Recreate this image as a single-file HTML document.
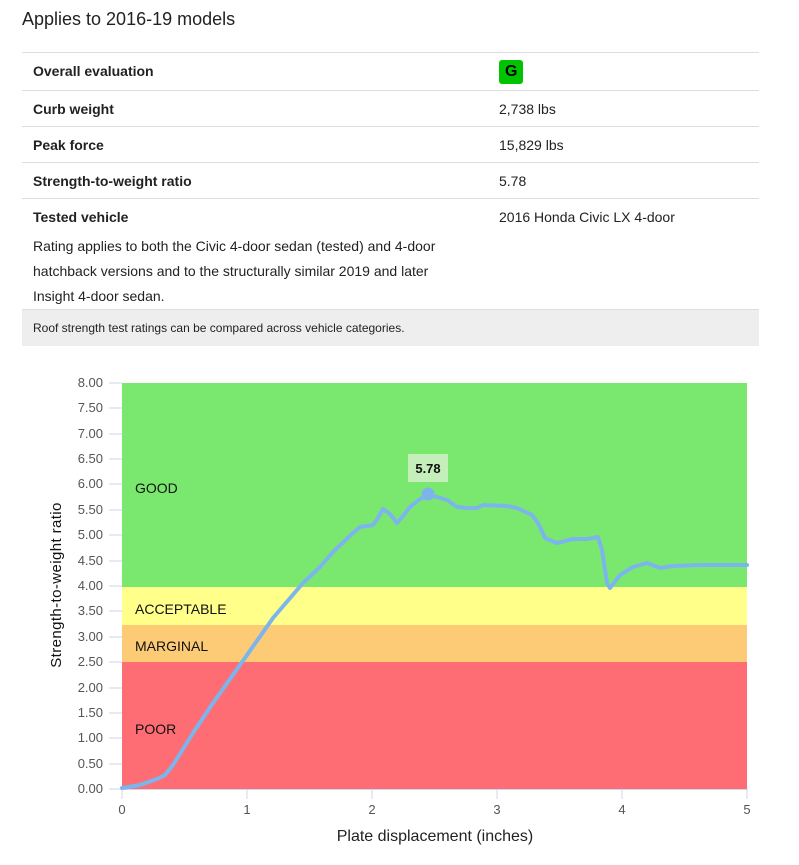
<!DOCTYPE html>
<html><head><meta charset="utf-8"><style>
body{margin:0;width:799px;height:865px;background:#fff;font-family:"Liberation Sans",sans-serif;color:#222;position:relative;overflow:hidden}
h2{position:absolute;left:22px;top:9px;margin:0;font-size:18px;font-weight:normal}
.row{position:absolute;left:22px;width:737px;border-top:1px solid #ddd;font-size:14px}
.l{position:absolute;left:11px;font-weight:bold}
.r{position:absolute;left:477px}
</style></head><body>
<h2>Applies to 2016-19 models</h2>
<div class="row" style="top:52px;height:38px"><span class="l" style="top:10px">Overall evaluation</span><span class="r" style="top:7px;background:#00c400;color:#000;font-weight:bold;border-radius:3px;padding:2px 6px;font-size:16px;line-height:20px">G</span></div>
<div class="row" style="top:90px;height:36px"><span class="l" style="top:10px">Curb weight</span><span class="r" style="top:10px">2,738 lbs</span></div>
<div class="row" style="top:126px;height:36px"><span class="l" style="top:10px">Peak force</span><span class="r" style="top:10px">15,829 lbs</span></div>
<div class="row" style="top:162px;height:36px"><span class="l" style="top:10px">Strength-to-weight ratio</span><span class="r" style="top:10px">5.78</span></div>
<div class="row" style="top:198px;height:111px"><span class="l" style="top:10px">Tested vehicle</span><span class="r" style="top:10px">2016 Honda Civic LX 4-door</span>
<div style="position:absolute;left:11px;top:35px;width:440px;line-height:25px">Rating applies to both the Civic 4-door sedan (tested) and 4-door hatchback versions and to the structurally similar 2019 and later Insight 4-door sedan.</div></div>
<div class="row" style="top:309px;height:36px;background:#eee;font-size:12px"><span style="position:absolute;left:11px;top:11px">Roof strength test ratings can be compared across vehicle categories.</span></div>
<svg style="position:absolute;left:0;top:0" width="799" height="865" font-family="Liberation Sans, sans-serif">
<rect x="122" y="383" width="625" height="204" fill="#7ae86e"/>
<rect x="122" y="587" width="625" height="38" fill="#ffff8a"/>
<rect x="122" y="625" width="625" height="37" fill="#fdcb76"/>
<rect x="122" y="662" width="625" height="127" fill="#fe6c74"/>
<g font-size="14" fill="#111"><text x="135" y="493">GOOD</text><text x="135" y="614">ACCEPTABLE</text><text x="135" y="651">MARGINAL</text><text x="135" y="734">POOR</text></g>
<g stroke="#ccd6eb" stroke-width="1">
<line x1="122" y1="789.5" x2="748" y2="789.5"/>
<line x1="109" y1="383" x2="122" y2="383"/><line x1="109" y1="408" x2="122" y2="408"/><line x1="109" y1="434" x2="122" y2="434"/><line x1="109" y1="459" x2="122" y2="459"/><line x1="109" y1="484" x2="122" y2="484"/><line x1="109" y1="510" x2="122" y2="510"/><line x1="109" y1="535" x2="122" y2="535"/><line x1="109" y1="561" x2="122" y2="561"/><line x1="109" y1="586" x2="122" y2="586"/><line x1="109" y1="611" x2="122" y2="611"/><line x1="109" y1="637" x2="122" y2="637"/><line x1="109" y1="662" x2="122" y2="662"/><line x1="109" y1="688" x2="122" y2="688"/><line x1="109" y1="713" x2="122" y2="713"/><line x1="109" y1="738" x2="122" y2="738"/><line x1="109" y1="764" x2="122" y2="764"/><line x1="109" y1="789" x2="122" y2="789"/>
<line x1="122" y1="789" x2="122" y2="799"/><line x1="247" y1="789" x2="247" y2="799"/><line x1="372" y1="789" x2="372" y2="799"/><line x1="497" y1="789" x2="497" y2="799"/><line x1="622" y1="789" x2="622" y2="799"/><line x1="747" y1="789" x2="747" y2="799"/>
</g>
<g font-size="13" fill="#555" text-anchor="end">
<text x="103" y="387">8.00</text><text x="103" y="412">7.50</text><text x="103" y="438">7.00</text><text x="103" y="463">6.50</text><text x="103" y="488">6.00</text><text x="103" y="514">5.50</text><text x="103" y="539">5.00</text><text x="103" y="565">4.50</text><text x="103" y="590">4.00</text><text x="103" y="615">3.50</text><text x="103" y="641">3.00</text><text x="103" y="666">2.50</text><text x="103" y="692">2.00</text><text x="103" y="717">1.50</text><text x="103" y="742">1.00</text><text x="103" y="768">0.50</text><text x="103" y="793">0.00</text></g>
<g font-size="13" fill="#555" text-anchor="middle"><text x="122" y="814">0</text><text x="247" y="814">1</text><text x="372" y="814">2</text><text x="497" y="814">3</text><text x="622" y="814">4</text><text x="747" y="814">5</text></g>
<text x="435" y="841" font-size="16" fill="#222" text-anchor="middle">Plate displacement (inches)</text>
<text transform="translate(61,585) rotate(-90)" font-size="15" fill="#111" text-anchor="middle" letter-spacing="0.4">Strength-to-weight ratio</text>
<polyline fill="none" stroke="#7cb5ec" stroke-width="4" stroke-linejoin="round" stroke-linecap="round" points="122,788 140,785 157,779 165,775 173,765 183,749 193,733 213,703 230,679 247,655 273,618 303,583 320,567 333,552 353,533 360,527 373,525 378,518 383,509 390,514 397,523 403,516 410,507 420,499 428,495 437,497 447,500 457,507 467,508 477,508 483,505 507,506 517,508 532,515 538,523 545,538 557,543 573,539 587,539 598,537 602,550 607,583 610,588 620,575 633,567 647,563 660,568 673,566 700,565 747,565"/>
<circle cx="428" cy="494" r="6.5" fill="#7cb5ec"/>
<rect x="408" y="454" width="40" height="28" fill="#c4efba"/>
<text x="428" y="473" font-size="13" font-weight="bold" fill="#111" text-anchor="middle">5.78</text>
</svg>
</body></html>
